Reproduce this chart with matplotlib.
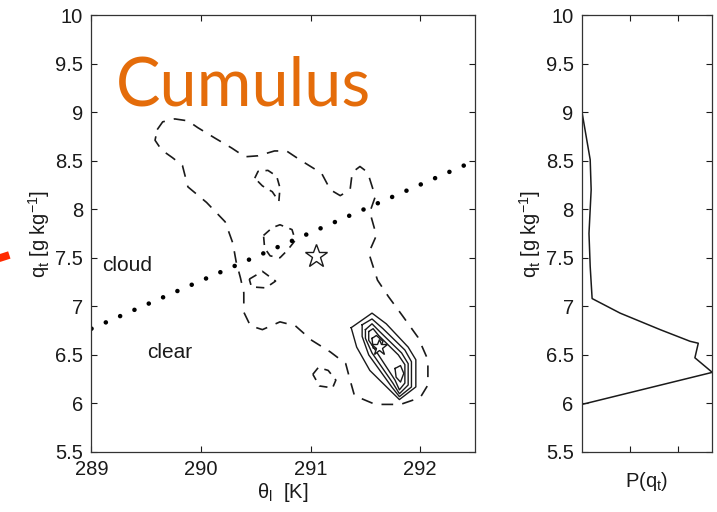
import numpy as np
import matplotlib.pyplot as plt
from matplotlib.lines import Line2D
from matplotlib.ticker import FuncFormatter

plt.rcParams['font.family'] = ['Liberation Sans', 'DejaVu Sans']
plt.rcParams['mathtext.fontset'] = 'custom'
plt.rcParams['mathtext.rm'] = 'Liberation Sans'
plt.rcParams['mathtext.it'] = 'Liberation Sans:italic'

# joint PDF of theta_l and q_t: outermost (dashed) contour
outer_theta = [289.60, 289.65, 289.76, 289.88, 289.97, 290.13, 290.28, 290.40, 290.52, 290.67,
               290.78, 290.90, 291.10, 291.18, 291.27, 291.36, 291.38, 291.45, 291.52, 291.59,
               291.54, 291.60, 291.53, 291.61, 291.71, 291.84, 291.98, 292.07, 292.07, 292.00,
               291.82, 291.59, 291.40, 291.36, 291.32, 291.18, 291.01, 290.86, 290.72, 290.56,
               290.45, 290.39, 290.39, 290.36, 290.32, 290.29, 290.22, 290.05, 289.88, 289.83,
               289.74, 289.64, 289.58]
outer_qt = [8.82, 8.90, 8.93, 8.91, 8.84, 8.73, 8.63, 8.54, 8.55, 8.60,
            8.60, 8.51, 8.37, 8.20, 8.14, 8.20, 8.38, 8.44, 8.38, 8.13,
            7.97, 7.73, 7.55, 7.27, 7.10, 6.90, 6.68, 6.45, 6.19, 6.06,
            5.99, 5.99, 6.08, 6.24, 6.41, 6.53, 6.65, 6.80, 6.84, 6.76,
            6.80, 6.94, 7.14, 7.29, 7.46, 7.65, 7.87, 8.07, 8.23, 8.45,
            8.53, 8.61, 8.71]

# small closed pieces of the same level
holes_theta = [
    [290.57, 290.65, 290.72, 290.83, 290.86, 290.79, 290.72, 290.63, 290.58],
    [290.44, 290.56, 290.68, 290.59, 290.46],
    [290.49, 290.52, 290.61, 290.69, 290.72, 290.71, 290.65, 290.56],
    [291.02, 291.07, 291.16, 291.23, 291.20, 291.08],
]
holes_qt = [
    [7.73, 7.81, 7.84, 7.79, 7.68, 7.58, 7.50, 7.52, 7.60],
    [7.28, 7.36, 7.26, 7.19, 7.20],
    [8.32, 8.39, 8.40, 8.34, 8.22, 8.08, 8.18, 8.24],
    [6.30, 6.37, 6.34, 6.24, 6.16, 6.18],
]

# inner (solid) contours around the cloud-free peak
inner_theta = [
    [291.37, 291.56, 291.69, 291.89, 291.96, 291.96, 291.81, 291.54, 291.42],
    [291.47, 291.56, 291.66, 291.86, 291.92, 291.92, 291.81, 291.74, 291.53, 291.47],
    [291.50, 291.56, 291.63, 291.83, 291.89, 291.89, 291.81, 291.75, 291.56, 291.50],
    [291.53, 291.57, 291.62, 291.80, 291.86, 291.86, 291.81, 291.77, 291.59, 291.53],
    [291.77, 291.82, 291.85, 291.82, 291.78],
    [291.56, 291.60, 291.66, 291.63, 291.57],
]
inner_qt = [
    [6.78, 6.93, 6.82, 6.58, 6.45, 6.17, 6.04, 6.34, 6.58],
    [6.81, 6.87, 6.77, 6.55, 6.43, 6.17, 6.07, 6.17, 6.50, 6.69],
    [6.76, 6.82, 6.74, 6.52, 6.41, 6.19, 6.10, 6.21, 6.52, 6.67],
    [6.74, 6.77, 6.70, 6.50, 6.40, 6.21, 6.14, 6.24, 6.55, 6.65],
    [6.36, 6.39, 6.31, 6.22, 6.27],
    [6.67, 6.70, 6.64, 6.55, 6.57],
]

# saturation line separating cloudy and clear air
sat_theta = [289.0, 292.5]
sat_qt = [6.77, 8.50]

# mean states (cloudy, clear)
star_theta = [291.05, 291.62]
star_qt = [7.52, 6.58]
star_size = [17, 12]

# marginal PDF of q_t
pdf_qt = [9.00, 8.51, 8.20, 7.75, 7.41, 7.08, 6.93, 6.76, 6.64, 6.62, 6.47, 6.32, 5.99]
pdf_p = [0.0, 0.017, 0.019, 0.0145, 0.017, 0.021, 0.079, 0.162, 0.224, 0.241, 0.234, 0.270, 0.0]

qt_ticks = np.arange(5.5, 10.01, 0.5)
theta_ticks = [289, 290, 291, 292]

ink = '#1a1a1a'
fs = 14.5
fmt = FuncFormatter(lambda v, pos: f'{v:g}')


def style_axes(ax):
    ax.tick_params(direction='in', length=4.5, width=0.8, top=True, right=True,
                   labelsize=fs, colors=ink, pad=6)
    for s in ax.spines.values():
        s.set_linewidth(0.9)
        s.set_color('#333333')
    ax.set_ylim(5.5, 10)
    ax.set_yticks(qt_ticks)
    ax.yaxis.set_major_formatter(fmt)
    ax.set_ylabel(r'q$_{\rm t}$ [g kg$^{-1}$]', fontsize=fs, color=ink, labelpad=2)


fig = plt.figure(figsize=(7.17, 5.12), dpi=100)
ax = fig.add_axes([0.1276, 0.1172, 0.5349, 0.8535])
axp = fig.add_axes([0.8117, 0.1172, 0.1817, 0.8535])

# left panel: joint PDF
ax.plot(outer_theta + outer_theta[:1], outer_qt + outer_qt[:1], color=ink, lw=1.2,
        ls=(0, (7, 5.5)))
for th, q in zip(holes_theta, holes_qt):
    ax.plot(th + th[:1], q + q[:1], color=ink, lw=1.2, ls=(0, (5, 4)))
for th, q in zip(inner_theta, inner_qt):
    ax.plot(th + th[:1], q + q[:1], color=ink, lw=1.0)

ax.plot(sat_theta, sat_qt, color='black', lw=3.3, ls=(0, (0.01, 3.4)),
        dash_capstyle='round')
for th, q, ms in zip(star_theta, star_qt, star_size):
    ax.plot(th, q, marker='*', ms=ms, mfc='white', mec=ink, mew=1.0, zorder=5)

ax.text(289.1, 7.42, 'cloud', fontsize=15, color=ink, va='center')
ax.text(289.51, 6.52, 'clear', fontsize=15, color=ink, va='center')
ax.text(289.22, 9.07, 'Cumulus', fontsize=48, color='#E46C0A', family='Lato',
        va='baseline')

ax.set_xlim(289, 292.5)
ax.set_xticks(theta_ticks)
style_axes(ax)
ax.set_xlabel('θ$_{\\rm l}$  [K]', fontsize=fs, color=ink, labelpad=1)

# right panel: marginal PDF
axp.plot(pdf_p, pdf_qt, color=ink, lw=1.1)
axp.set_xlim(0, 0.27)
axp.set_xticks([0.1, 0.2])
axp.set_xticklabels([])
style_axes(axp)
axp.set_xlabel(r'P(q$_{\rm t}$)', fontsize=fs, color=ink, labelpad=7)

# red pointer coming in from the left edge
fig.add_artist(Line2D([-0.007, 0.013], [0.493, 0.502], color='#ff2a00', lw=5.5,
                      solid_capstyle='butt'))

fig.savefig('out.png', dpi=100)
